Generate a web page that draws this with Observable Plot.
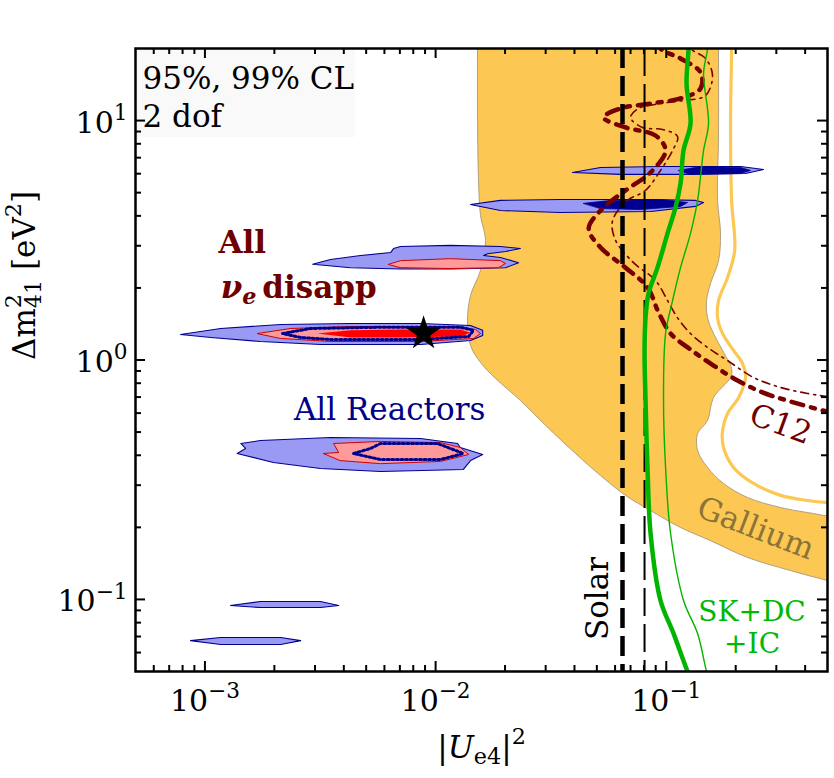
<!DOCTYPE html>
<html><head><meta charset="utf-8">
<script src="https://cdn.jsdelivr.net/npm/d3@7"></script>
<script src="https://cdn.jsdelivr.net/npm/@observablehq/plot@0.6"></script>
<style>body{margin:0;background:#fff} svg{display:block}</style>
</head><body><div id="chart"></div>
<script>
// ---------- data (|U_e4|^2 , Δm²41 [eV²]) ----------
const galliumBand = [
 [0.0152,30],[0.0152,20],[0.0152,10.0],[0.01535,5.62],[0.01566,4.01],[0.01646,3.16],[0.01566,2.37],
 [0.01417,1.86],[0.01375,1.46],[0.01417,1.15],[0.01566,0.976],[0.0182,0.837],[0.0233,0.678],[0.030,0.533],
 [0.0404,0.407],[0.0519,0.329],[0.0666,0.272],[0.0855,0.235],[0.1153,0.1997],[0.1556,0.176],[0.2251,0.1497],
 [0.3457,0.132],[0.5,0.120],[0.7,0.112],
 [0.7,0.235],[0.5,0.224],[0.435,0.2285],[0.313,0.242],[0.2251,0.2665],[0.1771,0.305],[0.151,0.356],
 [0.1367,0.419],[0.1367,0.493],[0.151,0.559],[0.1603,0.697],[0.190,0.845],[0.192,0.92],[0.1754,1.096],
 [0.1603,1.29],[0.151,1.50],[0.1495,1.77],[0.1556,2.09],[0.1685,2.60],[0.1719,3.38],[0.1669,4.64],
 [0.1685,8.83],[0.1685,20],[0.1685,30]
];
const galliumLine = [
 [0.192,25],[0.192,20],[0.190,10],[0.192,4.64],[0.198,2.87],[0.1843,2.21],[0.1685,1.77],[0.1669,1.50],
 [0.1754,1.29],[0.1957,1.096],[0.214,0.967],[0.2207,0.845],[0.206,0.697],[0.1843,0.598],[0.1754,0.508],
 [0.1771,0.431],[0.1957,0.356],[0.239,0.305],[0.313,0.272],[0.41,0.259],[0.5,0.254],[0.65,0.25]
];
const greenThick = [
 [0.1249,25],[0.1249,20],[0.1224,14.29],[0.1274,9.72],[0.1188,7.50],[0.1153,5.46],[0.1097,4.34],[0.1013,3.38],
 [0.0916,2.43],[0.0838,1.90],[0.0813,1.50],[0.0805,1.096],[0.0813,0.678],[0.0829,0.356],[0.0855,0.1885],
 [0.0944,0.099],[0.1076,0.072],[0.1237,0.05],[0.13,0.045]
];
const greenThin = [
 [0.151,25],[0.151,20],[0.1451,15.73],[0.1525,9.72],[0.1451,7.50],[0.1367,4.64],[0.1274,3.38],[0.1153,2.43],
 [0.1065,1.77],[0.0993,1.29],[0.0973,0.678],[0.0993,0.356],[0.1044,0.1885],[0.1188,0.099],[0.1367,0.072],
 [0.1495,0.05],[0.155,0.045]
];
const c12Thick = [
 [0.092,22],[0.0944,20],[0.1153,18.17],[0.1408,15.88],[0.1408,13.61],[0.1153,12.37],[0.0855,11.78],[0.0633,11.23],
 [0.0535,10.30],[0.0666,9.36],[0.0898,8.66],[0.0993,7.50],[0.0855,6.07],[0.0666,5.11],[0.0519,4.21],[0.0461,3.54],
 [0.0519,2.95],[0.0666,2.43],[0.0829,2.01],[0.0926,1.58],[0.1044,1.29],[0.1274,1.106],[0.1603,0.948],
 [0.2037,0.821],[0.2615,0.732],[0.3457,0.671],[0.5,0.609],[0.6,0.59]
];
const c12Thin = [
 [0.125,22],[0.1274,20],[0.148,18.17],[0.1587,15.43],[0.148,12.73],[0.1188,12.13],[0.0944,11.78],[0.0758,11.23],
 [0.070,10.30],[0.0789,9.36],[0.0963,9.18],[0.1119,8.58],[0.1065,7.50],[0.0944,6.19],[0.0813,5.11],[0.0679,4.64],
 [0.0585,3.82],[0.0603,3.16],[0.0721,2.55],[0.0898,2.15],[0.1023,1.74],[0.1119,1.50],[0.1274,1.29],[0.151,1.128],
 [0.1843,0.995],[0.239,0.845],[0.313,0.768],[0.41,0.725],[0.5,0.704],[0.6,0.695]
];
const solarThick = [0.0646];
const solarThin = [0.0805];

// reactor and all-νe regions
const reactorA = [[7.84e-4,1.278],[1.17e-3,1.354],[2.13e-3,1.407],[4.28e-3,1.42],[8.61e-3,1.42],[1.417e-2,1.393],[1.6e-2,1.33],[1.6e-2,1.266],[1.417e-2,1.206],[8.61e-3,1.161],[3.17e-3,1.161],[1.74e-3,1.195],[1.06e-3,1.242]];
const reactorB = [[2.93e-3,2.51],[3.5e-3,2.63],[4.73e-3,2.73],[6.38e-3,2.81],[6.57e-3,2.92],[7.05e-3,2.98],[1.16e-2,3.01],[1.91e-2,2.98],[2.33e-2,2.92],[2.01e-2,2.84],[1.68e-2,2.78],[1.614e-2,2.73],[1.91e-2,2.68],[2.29e-2,2.55],[2.01e-2,2.43],[1.16e-2,2.40],[7.05e-3,2.40],[4.28e-3,2.43]];
const reactorC = [[1.417e-2,4.46],[1.91e-2,4.64],[3.48e-2,4.68],[8.55e-2,4.68],[0.134,4.64],[0.1451,4.55],[0.134,4.38],[8.55e-2,4.17],[3.48e-2,4.13],[1.91e-2,4.21]];
const reactorD = [[3.92e-2,6.07],[5.19e-2,6.37],[9.44e-2,6.43],[0.2099,6.43],[0.2641,6.25],[0.2207,6.01],[0.1153,5.96],[6.33e-2,5.96]];
const reactorE = [[1.43e-3,0.448],[1.50e-3,0.427],[1.38e-3,0.407],[1.98e-3,0.373],[3.17e-3,0.352],[5.77e-3,0.342],[1.32e-2,0.349],[1.417e-2,0.380],[1.6e-2,0.403],[1.28e-2,0.431],[1.245e-2,0.448],[8.61e-3,0.47],[3.5e-3,0.4745],[1.74e-3,0.461]];
const reactorF = [[1.29e-3,0.0943],[1.74e-3,0.098],[3.17e-3,0.098],[3.8e-3,0.0943],[3.17e-3,0.0925],[1.74e-3,0.0925]];
const reactorG = [[8.66e-4,0.0673],[1.17e-3,0.0693],[2.13e-3,0.0693],[2.6e-3,0.0673],[2.13e-3,0.0648],[1.17e-3,0.0648]];
const reactorNavyC = [[4.38e-2,4.51],[5.73e-2,4.64],[9.44e-2,4.68],[0.1237,4.55],[0.1153,4.38],[7.73e-2,4.25],[5.19e-2,4.29]];
const reactorNavyD = [[0.113,6.19],[0.1408,6.43],[0.2099,6.37],[0.2319,6.19],[0.2099,6.01],[0.1274,5.96]];
const nueA = [[1.69e-3,1.29],[2.35e-3,1.354],[4.28e-3,1.38],[1.16e-2,1.38],[1.49e-2,1.34],[1.566e-2,1.29],[1.46e-2,1.23],[8.61e-3,1.195],[3.5e-3,1.195],[2.13e-3,1.23]];
const nueB = [[6.25e-3,2.51],[7.05e-3,2.60],[1.16e-2,2.65],[1.91e-2,2.60],[2.01e-2,2.53],[1.875e-2,2.43],[1.16e-2,2.41],[7.05e-3,2.43]];
const nueE = [[3.27e-3,0.407],[3.8e-3,0.411],[3.61e-3,0.448],[5.77e-3,0.457],[1.05e-2,0.452],[1.28e-2,0.431],[1.39e-2,0.403],[1.05e-2,0.377],[5.77e-3,0.369],[3.87e-3,0.38]];
const nueRedA = [[3.08e-3,1.29],[4.28e-3,1.33],[7.05e-3,1.34],[1.28e-2,1.34],[1.417e-2,1.30],[1.28e-2,1.254],[7.05e-3,1.242],[4.28e-3,1.242]];
const dottedA = [[2.17e-3,1.29],[2.87e-3,1.354],[5.77e-3,1.37],[1.28e-2,1.37],[1.46e-2,1.33],[1.39e-2,1.254],[8.61e-3,1.218],[3.5e-3,1.218],[2.6e-3,1.242]];
const dottedE = [[4.41e-3,0.407],[5.22e-3,0.427],[5.77e-3,0.448],[1.019e-2,0.448],[1.16e-2,0.427],[1.32e-2,0.407],[1.05e-2,0.384],[5.77e-3,0.384]];
const bestFit = [[0.00887,1.29]];

// ticks
const xMajor = [1e-3, 1e-2, 1e-1];
const xTickLabels = ["10^{−3}", "10^{−2}", "10^{−1}"];
const xMinor = [6e-4,7e-4,8e-4,9e-4,2e-3,3e-3,4e-3,5e-3,6e-3,7e-3,8e-3,9e-3,2e-2,3e-2,4e-2,5e-2,6e-2,7e-2,8e-2,9e-2,0.2,0.3,0.4];
const yMajor = [0.1, 1, 10];
const yTickLabels = ["10^{−1}", "10^{0}", "10^{1}"];
const yMinor = [0.06,0.07,0.08,0.09,0.2,0.3,0.4,0.5,0.6,0.7,0.8,0.9,2,3,4,5,6,7,8,9];

// annotations
const labelAll = [{x: 1.145e-3, y: 2.785, t: "All"}];
const labelNue = [{x: 1.17e-3, y: 1.824, t: "*{ν}#{e}disapp"}];
const labelReactors = [{x: 6.32e-3, y: 0.564, t: "All Reactors"}];
const labelC12 = [{x: 0.313, y: 0.538, t: "C12"}];
const labelGallium = [{x: 0.2438, y: 0.1978, t: "Gallium"}];
const labelSolar = [{x: 0.0504, y: 0.1009, t: "Solar"}];
const labelSK = [{x: 0.2355, y: 0.0817, t: "SK+DC\n+IC"}];
const boxCL = [{x1: 5e-4, x2: 4.5e-3, y1: 8.5, y2: 20}];

// ---------- styling ----------
const W = 834, H = 778, ML = 135, MR = 7, MT = 48, MB = 107;
const innerW = W - ML - MR, innerH = H - MT - MB;
const P = d => d[0], Q = d => d[1];
const lightBlue = "#9a9af4", navy = "#000090", pink = "#ff9a9a", red = "#ff0000",
      orange = "#fcc752", darkRed = "#780000", green = "#00b400";

const poly = (data, o) => Plot.line(data, {x: P, y: Q, curve: "linear-closed", ...o});

const marks = [
  Plot.rect(boxCL, {x1: "x1", x2: "x2", y1: "y1", y2: "y2", fill: "#f9f9f9"}),
  Plot.line(galliumBand, {x: P, y: Q, curve: "catmull-rom-closed", fill: orange, stroke: "#a8977a", strokeWidth: 0.9, clip: true}),
  Plot.line(galliumLine, {x: P, y: Q, curve: "catmull-rom", stroke: orange, strokeWidth: 3.2, clip: true}),
  ...[reactorA, reactorB, reactorC, reactorD, reactorE, reactorF, reactorG].map(r => poly(r, {fill: lightBlue, stroke: navy, strokeWidth: 1.1})),
  ...[reactorNavyC, reactorNavyD].map(r => poly(r, {fill: navy, stroke: navy, strokeWidth: 0.8})),
  ...[nueA, nueB, nueE].map(r => poly(r, {fill: pink, stroke: "#d00000", strokeWidth: 1})),
  poly(nueRedA, {fill: red, stroke: "none"}),
  ...[dottedA, dottedE].map(r => poly(r, {stroke: navy, strokeWidth: 3, strokeDasharray: "2 2.6"})),
  Plot.dot(bestFit, {x: P, y: Q, symbol: "star", r: 9.5, fill: "black", stroke: "black"}),
  Plot.line(c12Thick, {x: P, y: Q, curve: "catmull-rom", stroke: darkRed, strokeWidth: 4.5, strokeDasharray: "12 8 4 8", clip: true}),
  Plot.line(c12Thin, {x: P, y: Q, curve: "catmull-rom", stroke: darkRed, strokeWidth: 1.6, strokeDasharray: "8 5 2 5", clip: true}),
  Plot.ruleX(solarThick, {stroke: "black", strokeWidth: 4.5, strokeDasharray: "20 8"}),
  Plot.ruleX(solarThin, {stroke: "black", strokeWidth: 2, strokeDasharray: "28 8"}),
  Plot.line(greenThick, {x: P, y: Q, curve: "catmull-rom", stroke: green, strokeWidth: 4.5, clip: true}),
  Plot.line(greenThin, {x: P, y: Q, curve: "catmull-rom", stroke: green, strokeWidth: 1.4, clip: true}),
  // inward ticks on all four sides
  Plot.tickX(xMajor, {x: d => d, insetTop: innerH - 10, stroke: "black", strokeWidth: 2}),
  Plot.tickX(xMajor, {x: d => d, insetBottom: innerH - 10, stroke: "black", strokeWidth: 2}),
  Plot.tickX(xMinor, {x: d => d, insetTop: innerH - 6, stroke: "black", strokeWidth: 2}),
  Plot.tickX(xMinor, {x: d => d, insetBottom: innerH - 6, stroke: "black", strokeWidth: 2}),
  Plot.tickY(yMajor, {y: d => d, insetRight: innerW - 10, stroke: "black", strokeWidth: 2}),
  Plot.tickY(yMajor, {y: d => d, insetLeft: innerW - 10, stroke: "black", strokeWidth: 2}),
  Plot.tickY(yMinor, {y: d => d, insetRight: innerW - 6, stroke: "black", strokeWidth: 2}),
  Plot.tickY(yMinor, {y: d => d, insetLeft: innerW - 6, stroke: "black", strokeWidth: 2}),
  Plot.frame({stroke: "black", strokeWidth: 2.5}),
  // tick labels
  Plot.text(xMajor, {x: d => d, text: (d, i) => xTickLabels[i], frameAnchor: "bottom", dy: 39, lineAnchor: "bottom", fontSize: 30, fill: "black"}),
  Plot.text(yMajor, {y: d => d, text: (d, i) => yTickLabels[i], frameAnchor: "left", dx: -8, dy: 12, textAnchor: "end", lineAnchor: "bottom", fontSize: 30, fill: "black"}),
  // axis labels
  Plot.text(["|*{U}_{e4}|^{2}"], {frameAnchor: "bottom", dy: 86, lineAnchor: "bottom", fontSize: 31, fill: "black"}),
  Plot.text(["Δm^{2}_{41} [eV^{2}]"], {frameAnchor: "left", dx: -101, rotate: -90, lineAnchor: "bottom", fontSize: 31, fill: "black"}),
  // annotations
  Plot.text(["95%, 99% CL"], {frameAnchor: "top-left", dx: 7, dy: 40, textAnchor: "start", lineAnchor: "bottom", fontSize: 31, fill: "black"}),
  Plot.text(["2 dof"], {frameAnchor: "top-left", dx: 7, dy: 78, textAnchor: "start", lineAnchor: "bottom", fontSize: 31, fill: "black"}),
  Plot.text(labelAll, {x: "x", y: "y", text: "t", textAnchor: "start", lineAnchor: "bottom", fontSize: 31, fontWeight: "bold", fill: "#6e0000"}),
  Plot.text(labelNue, {x: "x", y: "y", text: "t", textAnchor: "start", lineAnchor: "bottom", fontSize: 31, fontWeight: "bold", fill: "#6e0000"}),
  Plot.text(labelReactors, {x: "x", y: "y", text: "t", lineAnchor: "bottom", fontSize: 31, fill: "#000088"}),
  Plot.text(labelC12, {x: "x", y: "y", text: "t", rotate: 20, fontSize: 31, fill: "#6e0000"}),
  Plot.text(labelGallium, {x: "x", y: "y", text: "t", rotate: 21, fontSize: 31, fill: "#8a7438"}),
  Plot.text(labelSolar, {x: "x", y: "y", text: "t", rotate: -90, fontSize: 31, fill: "black"}),
  Plot.text(labelSK, {x: "x", y: "y", text: "t", lineAnchor: "top", dy: -23, lineHeight: 1.16, fontSize: 28, fill: "#00b800"})
];

const chart = Plot.plot({
  width: W, height: H,
  marginLeft: ML, marginRight: MR, marginTop: MT, marginBottom: MB,
  x: {type: "log", domain: [5e-4, 0.5], axis: null},
  y: {type: "log", domain: [0.05, 20], axis: null},
  style: {fontFamily: "'DejaVu Serif', 'Liberation Serif', serif", background: "white", color: "black"},
  marks
});
document.getElementById("chart").append(chart);

// rich text: ^{sup} _{sub} *{italic} #{italic sub}
function richify(el) {
  const src = el.textContent;
  if (!/[\^_*#]\{/.test(src)) return;
  const fs = parseFloat(getComputedStyle(el).fontSize) || 30;
  while (el.firstChild) el.removeChild(el.firstChild);
  const re = /([\^_*#])\{([^}]*)\}|([^\^_*#]+)/g;
  let m, cur = 0, prevSup = null;
  while ((m = re.exec(src))) {
    const t = document.createElementNS("http://www.w3.org/2000/svg", "tspan");
    const kind = m[1] || "";
    let off = 0;
    if (kind === "^") off = -0.42 * fs;
    else if (kind === "_" || kind === "#") off = 0.22 * fs;
    t.textContent = kind ? m[2] : m[3];
    if (kind === "^" || kind === "_" || kind === "#") t.setAttribute("font-size", (0.72 * fs).toFixed(1));
    if (kind === "*" || kind === "#") t.setAttribute("font-style", "italic");
    if (off !== cur) t.setAttribute("dy", (off - cur).toFixed(2));
    if (kind === "" && /^disapp/.test(t.textContent)) t.setAttribute("dx", "6");
    cur = off;
    el.appendChild(t);
    if ((kind === "_" || kind === "#") && prevSup) t.setAttribute("dx", (-prevSup.getComputedTextLength()).toFixed(2));
    prevSup = kind === "^" ? t : null;
  }
}
chart.querySelectorAll("text").forEach(richify);
</script></body></html>
